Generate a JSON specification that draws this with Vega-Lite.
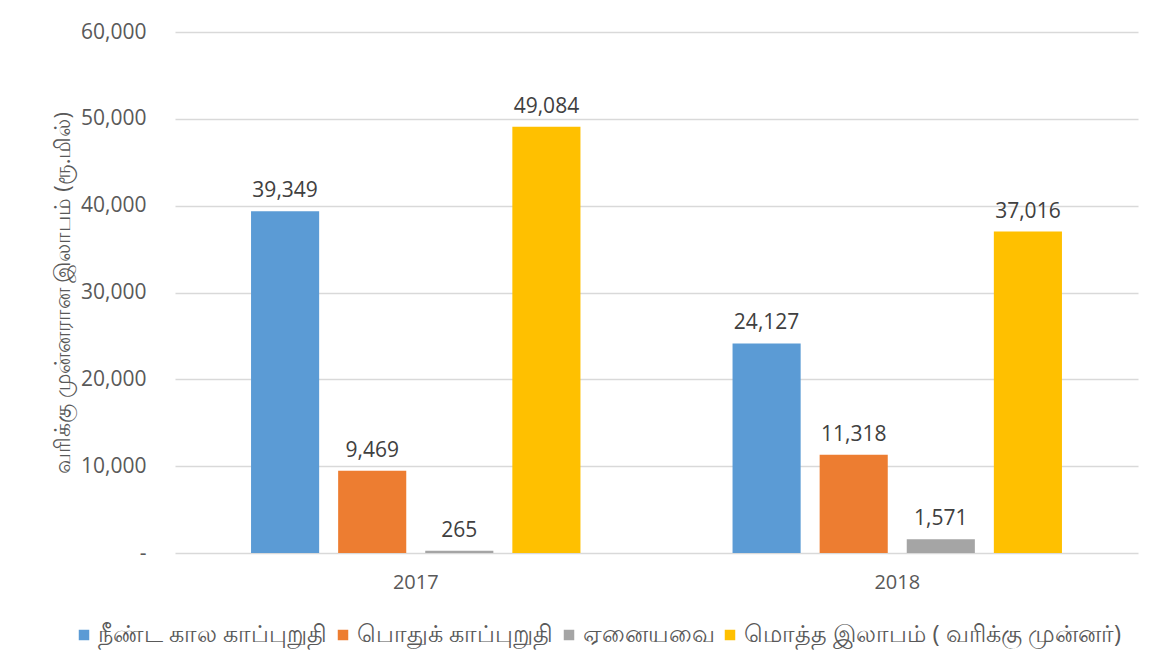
{
  "$schema": "https://vega.github.io/schema/vega-lite/v6.json",
  "width": 963,
  "height": 521,
  "autosize": {"type": "none"},
  "padding": {"left": 175, "top": 32, "right": 18, "bottom": 113},
  "background": "white",
  "config": {
    "view": {"stroke": null},
    "font": "Open Sans",
    "axis": {"labelFont": "Open Sans", "titleFont": "Open Sans", "labelColor": "#595959", "titleColor": "#595959"},
    "legend": {"labelFont": "Open Sans"}
  },
  "data": {
    "values": [
      {"year": "2017", "cat": "நீண்ட கால காப்புறுதி", "value": 39349},
      {"year": "2017", "cat": "பொதுக் காப்புறுதி", "value": 9469},
      {"year": "2017", "cat": "ஏனையவை", "value": 265},
      {"year": "2017", "cat": "மொத்த இலாபம் ( வரிக்கு முன்னர்)", "value": 49084},
      {"year": "2018", "cat": "நீண்ட கால காப்புறுதி", "value": 24127},
      {"year": "2018", "cat": "பொதுக் காப்புறுதி", "value": 11318},
      {"year": "2018", "cat": "ஏனையவை", "value": 1571},
      {"year": "2018", "cat": "மொத்த இலாபம் ( வரிக்கு முன்னர்)", "value": 37016}
    ]
  },
  "encoding": {
    "x": {
      "field": "year", "type": "nominal",
      "scale": {"paddingInner": 0, "paddingOuter": 0},
      "axis": {"title": null, "labelAngle": 0, "ticks": false, "domain": false, "labelFontSize": 20, "labelPadding": 19}
    },
    "xOffset": {
      "field": "cat", "type": "nominal",
      "sort": ["நீண்ட கால காப்புறுதி", "பொதுக் காப்புறுதி", "ஏனையவை", "மொத்த இலாபம் ( வரிக்கு முன்னர்)"],
      "scale": {"paddingInner": 0.218, "paddingOuter": 0.873}
    },
    "y": {
      "field": "value", "type": "quantitative",
      "scale": {"domain": [0, 60000]},
      "axis": {
        "title": "வரிக்கு முன்னரான இலாபம் (ரூ.மில்)",
        "titleFontSize": 22, "titleFontWeight": "normal", "titlePadding": 6,
        "values": [0, 10000, 20000, 30000, 40000, 50000, 60000],
        "labelOverlap": false,
        "labelExpr": "datum.value === 0 ? '-' : format(datum.value, ',')",
        "labelFontSize": 21, "labelPadding": 29,
        "ticks": false, "domain": false,
        "gridColor": "#d9d9d9", "gridWidth": 1.3
      }
    }
  },
  "layer": [
    {
      "mark": {"type": "bar"},
      "encoding": {
        "color": {
          "field": "cat", "type": "nominal",
          "sort": ["நீண்ட கால காப்புறுதி", "பொதுக் காப்புறுதி", "ஏனையவை", "மொத்த இலாபம் ( வரிக்கு முன்னர்)"],
          "scale": {"range": ["#5B9BD5", "#ED7D31", "#A5A5A5", "#FFC000"]},
          "legend": {
            "title": null, "orient": "none", "direction": "horizontal",
            "legendX": -103, "legendY": 591,
            "symbolType": "square", "symbolSize": 110, "symbolStrokeWidth": 0,
            "labelFontSize": 24, "labelLimit": 0, "labelColor": "#595959", "columnPadding": 3, "labelOffset": 2
          }
        }
      }
    },
    {
      "mark": {"type": "text", "baseline": "bottom", "dy": -10, "fontSize": 21, "color": "#404040"},
      "encoding": {
        "text": {"field": "value", "type": "quantitative", "format": ","}
      }
    }
  ]
}
